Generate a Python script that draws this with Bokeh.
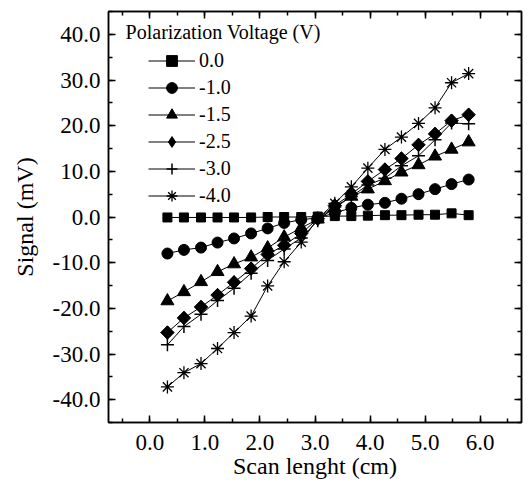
import numpy as np
from bokeh.plotting import figure
from bokeh.models import (FixedTicker, NumeralTickFormatter, LinearAxis, Legend,
                          LegendItem, Label, Range1d, CustomJSTickFormatter)
from bokeh.embed import file_html
from bokeh.resources import INLINE

# ---- data ----
scan_cm = [0.32, 0.62, 0.93, 1.23, 1.53, 1.84, 2.14, 2.44, 2.75, 3.05,
           3.36, 3.66, 3.96, 4.27, 4.57, 4.88, 5.18, 5.48, 5.79]
sig_0_0 = [-0.1, -0.1, -0.1, -0.1, -0.1, -0.1, 0.0, 0.0, 0.0, 0.1,
           0.2, 0.2, 0.3, 0.4, 0.4, 0.5, 0.5, 0.8, 0.4]
sig_m1_0 = [-8.0, -7.2, -6.7, -5.6, -4.7, -3.6, -2.5, -1.3, -0.6, -0.2,
            0.9, 2.0, 2.7, 3.1, 4.0, 5.0, 6.1, 7.2, 8.2]
sig_m1_5 = [-18.4, -16.4, -14.2, -12.0, -10.3, -8.8, -6.8, -4.4, -2.4, -0.5,
            2.0, 4.5, 6.1, 7.9, 9.8, 11.4, 13.3, 14.8, 16.4]
sig_m2_5 = [-25.3, -22.1, -19.7, -17.1, -14.3, -11.3, -8.2, -6.2, -3.6, -0.4,
            2.5, 5.0, 7.8, 10.4, 12.8, 15.8, 18.2, 21.1, 22.4]
sig_m3_0 = [-28.0, -24.0, -21.3, -18.3, -15.6, -12.3, -9.5, -7.0, -4.6, -0.8,
            2.2, 4.5, 7.0, 8.5, 11.2, 13.4, 16.9, 20.6, 20.4]
sig_m4_0 = [-37.2, -34.1, -32.1, -28.8, -25.3, -21.7, -15.1, -9.8, -5.5, -0.3,
            3.0, 6.6, 10.7, 14.8, 17.5, 20.5, 23.9, 29.4, 31.4]

series_labels = ["0.0", "-1.0", "-1.5", "-2.5", "-3.0", "-4.0"]
series_values = [sig_0_0, sig_m1_0, sig_m1_5, sig_m2_5, sig_m3_0, sig_m4_0]
x_ticks = [0, 1, 2, 3, 4, 5, 6]
y_ticks = [-40, -30, -20, -10, 0, 10, 20, 30, 40]
legend_title = "Polarization Voltage (V)"

FONT = "Liberation Serif"

p = figure(width=528, height=489, output_backend="svg", toolbar_location=None,
           x_range=Range1d(-0.75, 6.75), y_range=Range1d(-45, 45),
           min_border_left=108, min_border_right=7, min_border_top=11,
           min_border_bottom=67)
p.xgrid.visible = False
p.ygrid.visible = False
p.outline_line_color = "black"
p.outline_line_width = 1.5
p.background_fill_color = "white"
p.border_fill_color = "white"

styles = [
    dict(marker="square", size=9, lw=1),
    dict(marker="circle", size=11, lw=1),
    dict(marker="triangle", size=13, lw=1),
    dict(marker="diamond", size=13, lw=1),
    dict(marker="cross", size=13, lw=1.5),
    dict(marker="asterisk", size=13, lw=1.3),
]

items = []
for lab, vals, st in zip(series_labels, series_values, styles):
    ln = p.line(scan_cm, vals, line_color="black", line_width=1)
    sc = p.scatter(scan_cm, vals, marker=st["marker"], size=st["size"],
                   fill_color="black", line_color="black",
                   line_width=st["lw"])
    if st["marker"] == "diamond":
        # wider diamond on the plot: a rotated square covering the legend diamond
        p.scatter(scan_cm, vals, marker="square", size=9.5, angle=np.pi / 4,
                  fill_color="black", line_color="black", line_width=1)
    items.append(LegendItem(label=lab, renderers=[ln, sc]))

def style_axis(ax, labels=True):
    ax.axis_line_width = 1.5
    ax.axis_line_color = "black"
    ax.major_tick_in = 7
    ax.major_tick_out = 0
    ax.minor_tick_in = 4
    ax.minor_tick_out = 0
    ax.major_tick_line_width = 1.5
    ax.minor_tick_line_width = 1.5
    ax.major_label_text_font = FONT
    ax.major_label_text_font_size = "23px"
    ax.major_label_text_color = "black"
    ax.axis_label_text_font = FONT
    ax.axis_label_text_font_size = "24px"
    ax.axis_label_text_font_style = "normal"
    ax.axis_label_text_color = "black"
    if not labels:
        ax.formatter = CustomJSTickFormatter(code="return ''")
        ax.major_label_standoff = 0
        ax.axis_label_standoff = 0

xt = FixedTicker(ticks=x_ticks, minor_ticks=[v / 2 for v in range(-1, 14)])
yt = FixedTicker(ticks=y_ticks, minor_ticks=list(range(-45, 46, 5)))

p.xaxis.ticker = xt
p.yaxis.ticker = yt
p.xaxis.formatter = NumeralTickFormatter(format="0.0")
p.yaxis.formatter = NumeralTickFormatter(format="0.0")
style_axis(p.xaxis[0])
style_axis(p.yaxis[0])
p.xaxis.axis_label = "Scan lenght (cm)"
p.yaxis.axis_label = "Signal (mV)"
p.xaxis.major_label_standoff = 12
p.yaxis.major_label_standoff = 8
p.xaxis.axis_label_standoff = 0
p.yaxis.axis_label_standoff = 12

top = LinearAxis(ticker=xt)
right = LinearAxis(ticker=yt)
style_axis(top, labels=False)
style_axis(right, labels=False)
p.add_layout(top, "above")
p.add_layout(right, "right")

legend = Legend(items=items, location=(40, 213), orientation="vertical",
                glyph_width=47, glyph_height=27, label_height=20, spacing=0,
                padding=0, margin=0, label_standoff=4,
                label_text_font=FONT, label_text_font_size="20px",
                label_text_color="black",
                border_line_color=None, background_fill_alpha=0.0)
p.add_layout(legend, "center")

title = Label(x=-0.44, y=40.5, text=legend_title, text_font=FONT,
              text_font_size="20px", text_baseline="middle", text_color="black")
p.add_layout(title)

open("out.html", "w").write(file_html(p, INLINE))
